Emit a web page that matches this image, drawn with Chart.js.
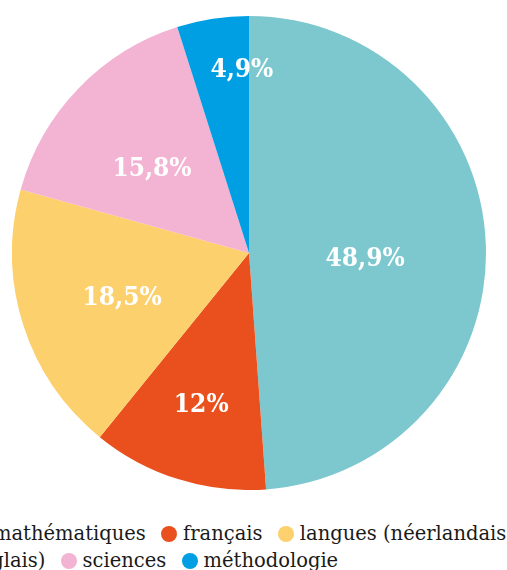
<!DOCTYPE html>
<html lang="fr">
<head>
<meta charset="UTF-8">
<title>Répartition</title>
<script src="https://cdn.jsdelivr.net/npm/chart.js"></script>
<style>
  body { margin: 0; width: 507px; height: 570px; overflow: hidden; background: #fff; position: relative; }
  #wrap { position: absolute; left: 12px; top: 16px; width: 474px; height: 474px; }
  #legend {
    position: absolute; left: -33px; top: 520px; width: 548px;
    text-indent: 4px; font-family: "DejaVu Serif", serif; font-size: 19.5px;
    line-height: 27px; color: #1a1a1a; white-space: normal;
  }
  #legend .dot { display: inline-block; width: 16px; height: 16px; border-radius: 50%; margin-right: 6px; vertical-align: -2px; }
  #legend .item { margin-right: 9px; }
</style>
</head>
<body>
<div id="wrap"><canvas id="myChart"></canvas></div>
<div id="legend"></div>
<script>
const categories = ['mathématiques', 'français', 'langues (néerlandais, anglais)', 'sciences', 'méthodologie'];
const values = [48.9, 12, 18.5, 15.8, 4.9];
const colors = ['#7DC8CE', '#E9501E', '#FDD06E', '#F3B3D3', '#009FE3'];
// label placement: fraction of radius, angle shift (deg)
const labelDist = [0.49, 0.665, 0.566, 0.548, 0.783];
const labelShift = [4, 0.2, -1.2, -2.3, 6.6];

const pctLabels = {
  id: 'pctLabels',
  afterDatasetsDraw(chart) {
    const ctx = chart.ctx;
    const meta = chart.getDatasetMeta(0);
    ctx.save();
    ctx.fillStyle = '#fff';
    ctx.font = 'bold 26px "DejaVu Serif Condensed", "DejaVu Serif", serif';
    ctx.textAlign = 'center';
    ctx.textBaseline = 'alphabetic';
    meta.data.forEach((arc, i) => {
      const p = arc.getProps(['x', 'y', 'startAngle', 'endAngle', 'outerRadius']);
      const a = (p.startAngle + p.endAngle) / 2 + labelShift[i] * Math.PI / 180;
      const r = p.outerRadius * labelDist[i];
      const txt = String(values[i]).replace('.', ',') + '%';
      ctx.fillText(txt, p.x + Math.cos(a) * r, p.y + Math.sin(a) * r + 9);
    });
    ctx.restore();
  }
};

const ctx = document.getElementById('myChart').getContext('2d');
new Chart(ctx, {
  type: 'pie',
  data: {
    labels: categories,
    datasets: [{
      data: values,
      backgroundColor: colors,
      borderWidth: 0,
      hoverOffset: 0
    }]
  },
  options: {
    responsive: true,
    maintainAspectRatio: false,
    animation: false,
    layout: { padding: 0 },
    plugins: {
      legend: { display: false },
      tooltip: { enabled: false }
    }
  },
  plugins: [pctLabels]
});

const legend = document.getElementById('legend');
categories.forEach((c, i) => {
  const item = document.createElement('span');
  item.className = 'item';
  const dot = document.createElement('span');
  dot.className = 'dot';
  dot.style.background = colors[i];
  item.appendChild(dot);
  item.appendChild(document.createTextNode(c));
  legend.appendChild(item);
  legend.appendChild(document.createTextNode(' '));
});
</script>
</body>
</html>
